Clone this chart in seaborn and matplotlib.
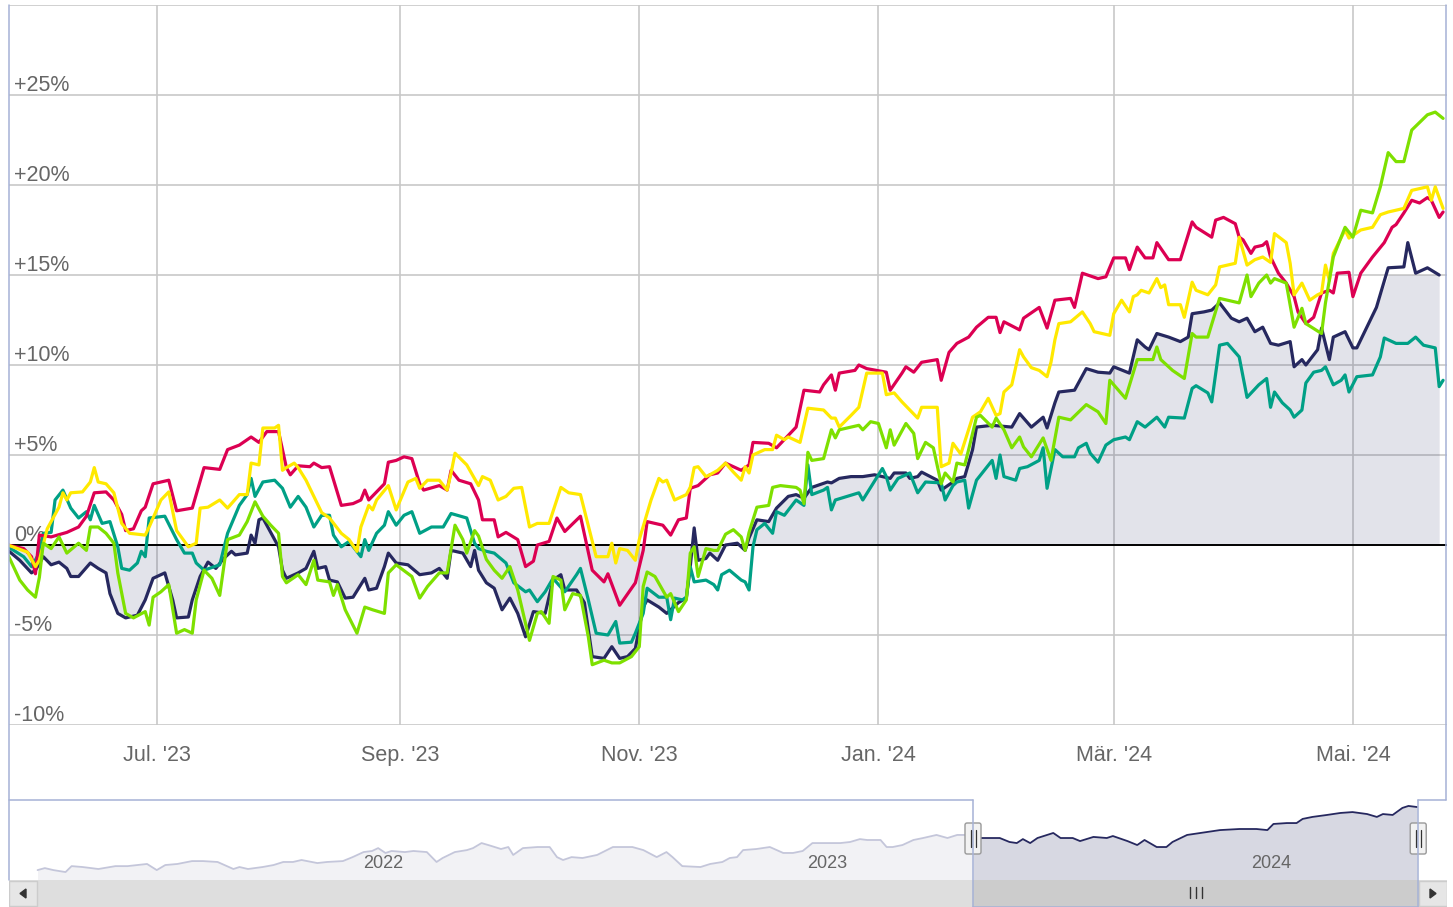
import numpy as np
import pandas as pd
import matplotlib
matplotlib.use("Agg")
import matplotlib.pyplot as plt
import matplotlib.dates as mdates
import matplotlib.transforms as mtransforms
from matplotlib.lines import Line2D
from matplotlib.patches import Rectangle, FancyBboxPatch, Polygon
import seaborn as sns

sns.set_style("white")
plt.rcParams["font.family"] = ["Liberation Sans", "DejaVu Sans"]

# ---------------- data (day offset from START, % change) ----------------
START = pd.Timestamp("2023-05-24")
SEL_END = pd.Timestamp("2024-05-24")

navy_pts = [(0,-0.3),(3,-0.85),(6,-1.55),(7,-1.4),(9,-0.65),(11,-1.1),(13,-0.95),(15,-1.3),(16,-1.75),(18,-1.75),
 (21,-1.0),(23,-1.3),(25,-1.55),(26,-2.7),(28,-3.8),(30,-4.05),(33,-3.9),(35,-3.05),(37,-1.85),(40,-1.55),
 (42,-3.05),(43,-4.05),(46,-4.0),(47,-3.05),(49,-1.75),(51,-0.95),(53,-1.3),(55,-0.75),(57,-0.35),(58,-0.55),
 (61,-0.45),(62,0.55),(63,0.1),(64,1.4),(65,1.5),(66,1.1),(69,-0.1),(70,-1.4),(71,-1.85),(74,-1.55),
 (76,-1.3),(78,-0.35),(79,-1.3),(81,-1.2),(82,-1.95),(84,-2.05),(86,-2.95),(88,-2.9),(91,-1.85),(92,-2.5),
 (94,-2.4),(96,-1.2),(97,-0.45),(99,-1.0),(102,-1.1),(105,-1.65),(108,-1.55),(110,-1.3),(112,-1.85),(113,-0.3),
 (116,-0.45),(118,-1.2),(119,-0.3),(120,-1.4),(122,-2.1),(124,-2.4),(126,-3.6),(128,-2.95),(130,-3.8),(132,-5.1),
 (134,-3.7),(137,-3.8),(139,-1.95),(141,-1.65),(142,-2.5),(145,-2.5),(147,-3.2),(149,-6.2),(152,-6.3),(154,-5.65),
 (156,-6.3),(158,-6.2),(160,-5.75),(162,-3.45),(163,-3.05),(166,-3.45),(168,-3.8),(171,-3.2),(173,-2.95),(174,-1.2),
 (175,0.95),(176,-0.85),(178,-0.75),(179,-0.45),(181,-0.85),(183,0.0),(186,0.1),(188,-0.3),(189,0.4),(191,1.4),
 (194,1.3),(196,2.05),(199,2.7),(201,2.8),(203,2.6),(205,3.2),(209,3.5),(210,3.45),(212,3.7),(215,3.8),
 (218,3.8),(221,3.9),(223,3.8),(225,3.7),(226,4.0),(229,4.0),(230,3.7),(232,3.8),(233,4.05),(237,3.6),
 (238,3.05),(241,3.5),(242,3.7),(244,3.8),(246,5.3),(247,6.55),(251,6.65),(256,6.55),(258,7.3),(261,6.55),
 (264,7.1),(265,6.5),(267,7.9),(268,8.5),(272,8.6),(275,9.8),(278,9.6),(281,9.55),(282,9.9),(286,9.55),
 (288,11.4),(290,11.0),(291,10.85),(293,11.75),(296,11.55),(299,11.3),(301,11.55),(302,12.85),(305,12.95),(307,13.05),
 (309,13.45),(312,12.6),(314,12.4),(316,12.6),(318,11.85),(320,12.1),(322,11.2),(324,11.1),(327,11.3),(328,9.9),
 (330,10.3),(331,10.0),(334,10.85),(335,12.05),(337,10.3),(338,11.55),(341,11.85),(343,10.95),(344,10.95),(349,13.2),
 (352,15.4),(356,15.45),(357,16.8),(359,15.1),(362,15.4),(365,15.0)]

red_pts = [(0,0.0),(4,-0.2),(6,-0.65),(7,-1.6),(8,0.55),(11,0.45),(15,0.7),(18,1.0),(20,1.6),(22,2.9),
 (25,2.95),(27,2.5),(29,1.7),(30,0.8),(32,0.9),(34,1.9),(35,2.1),(37,3.4),(41,3.6),(43,1.9),
 (47,2.05),(50,4.3),(54,4.2),(56,5.3),(59,5.55),(62,6.0),(64,5.7),(66,6.3),(69,6.3),(71,4.3),
 (72,3.9),(74,4.4),(77,4.35),(78,4.55),(80,4.3),(82,4.35),(85,2.2),(88,2.3),(90,2.5),(91,3.05),
 (92,2.5),(96,3.4),(97,4.6),(99,4.7),(101,4.9),(103,4.8),(105,3.4),(106,3.05),(110,3.3),(112,3.05),
 (113,4.15),(115,3.6),(118,3.4),(120,2.5),(121,1.4),(124,1.4),(125,0.45),(127,0.7),(130,0.3),(132,-1.2),
 (134,-0.9),(135,0.0),(138,0.2),(140,1.5),(142,0.75),(146,1.6),(149,-1.4),(152,-2.05),(153,-1.6),(156,-3.35),
 (160,-2.1),(162,-0.3),(163,1.3),(167,1.1),(169,0.55),(171,1.4),(173,1.5),(174,3.15),(176,3.3),(179,3.9),
 (181,4.0),(183,4.55),(187,4.15),(189,4.45),(190,5.7),(194,5.65),(196,5.4),(201,6.55),(203,8.6),(207,8.5),
 (208,8.9),(210,9.45),(211,8.6),(212,9.55),(216,9.7),(217,10.0),(219,9.8),(224,9.6),(225,8.6),(228,9.55),
 (229,9.9),(231,9.6),(233,10.15),(237,10.3),(238,9.15),(240,10.7),(242,11.2),(245,11.55),(247,12.1),(250,12.65),
 (252,12.65),(253,11.8),(254,12.4),(258,11.95),(259,12.6),(263,13.2),(265,12.05),(267,13.6),(271,13.7),(272,13.2),
 (274,15.1),(278,14.8),(280,14.9),(282,15.95),(285,15.95),(286,15.3),(288,16.55),(290,15.95),(292,15.95),(293,16.8),
 (296,15.85),(299,15.85),(302,17.95),(303,17.65),(307,17.1),(308,18.05),(310,18.2),(313,17.85),(314,17.1),(315,16.95),
 (317,16.2),(318,16.55),(320,16.65),(321,16.85),(322,16.0),(324,15.1),(326,14.55),(328,13.8),(329,12.95),(331,12.3),
 (333,12.65),(335,14.0),(337,14.15),(338,14.0),(339,15.1),(342,15.15),(343,13.8),(345,15.1),(348,16.0),(351,16.8),
 (353,17.65),(354,17.8),(356,18.45),(358,19.15),(360,19.0),(362,19.3),(363,19.15),(365,18.2),(366,18.5)]

yellow_pts = [(0,0.0),(5,-0.4),(7,-1.2),(8,-0.85),(10,0.9),(13,2.1),(14,2.9),(15,2.5),(16,2.9),(19,2.95),
 (21,3.5),(22,4.3),(23,3.5),(25,3.4),(27,2.9),(29,1.2),(31,0.65),(35,0.55),(36,1.0),(39,2.5),
 (41,2.95),(43,0.8),(46,-0.1),(48,0.1),(49,2.05),(51,2.1),(54,2.5),(56,2.05),(59,2.8),(61,2.8),
 (62,4.55),(64,4.45),(65,6.5),(68,6.5),(69,6.65),(70,4.15),(71,4.3),(73,4.55),(74,4.3),(76,3.6),
 (77,3.15),(78,2.7),(80,1.8),(82,1.5),(85,0.65),(87,0.3),(89,-0.35),(90,1.0),(92,2.2),(93,1.95),
 (94,2.5),(97,3.3),(99,1.95),(102,3.5),(104,3.7),(105,3.15),(107,3.6),(110,3.6),(112,3.05),(113,4.0),
 (114,5.1),(117,4.45),(120,3.3),(121,3.8),(123,3.6),(125,2.5),(127,2.7),(129,3.15),(131,3.2),(133,1.0),
 (135,1.2),(138,1.2),(141,3.2),(143,2.9),(146,2.8),(149,0.2),(150,-0.65),(153,-0.65),(154,0.1),(155,-1.0),
 (156,-0.2),(158,-0.3),(160,-0.85),(161,0.3),(164,2.5),(166,3.7),(167,3.5),(168,3.6),(170,2.5),(173,2.8),
 (174,3.2),(175,4.3),(176,4.35),(178,3.8),(179,3.9),(181,4.15),(183,4.55),(185,4.05),(187,3.6),(188,4.35),
 (189,4.0),(190,5.0),(193,5.3),(195,5.3),(196,6.1),(198,5.85),(199,6.0),(202,5.7),(204,7.6),(208,7.5),
 (210,7.05),(211,7.05),(212,6.55),(215,7.2),(217,7.65),(219,9.55),(223,9.55),(224,8.35),(226,8.45),(228,7.95),
 (232,7.05),(233,7.65),(237,7.65),(238,4.35),(240,4.55),(241,5.65),(243,5.05),(246,7.1),(248,7.4),(250,8.15),
 (252,7.2),(253,7.3),(254,8.5),(256,8.9),(258,10.85),(259,10.45),(261,9.85),(263,9.7),(265,9.35),(266,10.15),
 (267,11.4),(268,12.3),(271,12.4),(274,12.95),(276,12.3),(277,11.85),(281,11.65),(282,12.85),(284,13.6),(286,12.95),
 (287,13.8),(288,13.9),(289,14.15),(291,14.0),(293,14.8),(294,14.3),(295,14.45),(296,13.35),(299,13.35),(300,12.65),
 (302,14.6),(303,14.15),(306,13.9),(308,14.45),(309,15.45),(313,15.65),(314,17.1),(316,15.55),(318,15.85),(320,16.0),
 (322,15.7),(323,17.3),(326,16.8),(327,15.65),(328,13.9),(330,14.55),(332,13.6),(334,13.9),(335,14.0),(336,15.55),
 (337,14.7),(338,16.2),(341,17.5),(342,17.05),(345,17.5),(348,17.65),(350,18.35),(352,18.5),(356,18.7),(358,19.7),
 (362,19.9),(363,19.15),(364,19.9),(366,18.7)]

green_pts = [(0,-0.55),(3,-1.95),(5,-2.5),(7,-2.9),(8,-1.8),(9,0.1),(11,-0.2),(13,0.45),(15,-0.45),(18,0.1),
 (20,-0.3),(21,1.0),(23,1.0),(25,0.65),(27,0.1),(28,-1.55),(30,-3.8),(32,-4.05),(35,-3.7),(36,-4.45),
 (37,-2.9),(39,-2.6),(41,-2.2),(43,-4.9),(45,-4.7),(47,-4.9),(48,-3.05),(50,-1.4),(52,-1.85),(54,-2.8),
 (56,0.3),(59,0.55),(61,1.3),(63,2.4),(65,1.6),(67,1.1),(69,0.65),(70,-1.75),(71,-2.1),(74,-1.65),
 (76,-2.2),(78,-0.85),(79,-1.95),(82,-2.05),(83,-2.8),(84,-2.2),(86,-3.6),(89,-4.9),(91,-3.45),(93,-3.6),
 (96,-3.8),(97,-1.55),(99,-1.1),(103,-1.75),(105,-2.95),(107,-2.3),(110,-1.55),(112,-1.55),(114,1.1),(116,0.3),
 (117,-0.45),(119,0.8),(120,0.5),(122,-0.8),(124,-1.4),(126,-1.85),(128,-1.2),(130,-2.5),(133,-5.3),(135,-3.8),
 (136,-3.7),(138,-4.35),(139,-1.75),(141,-1.95),(142,-3.6),(144,-2.7),(146,-2.8),(148,-5.1),(149,-6.65),(152,-6.4),
 (154,-6.55),(156,-6.55),(159,-6.2),(161,-5.65),(162,-2.3),(163,-1.5),(165,-1.75),(168,-2.9),(169,-2.7),(171,-3.7),
 (173,-3.05),(174,-0.45),(175,-0.1),(176,-1.75),(178,-0.2),(180,-0.3),(181,-0.3),(183,0.6),(185,0.85),(187,0.45),
 (188,-0.3),(189,0.7),(191,2.1),(194,2.2),(195,3.2),(197,3.3),(201,3.2),(202,3.05),(203,2.3),(204,5.15),
 (205,4.7),(208,4.8),(210,6.4),(211,5.95),(212,6.4),(215,6.55),(217,6.65),(218,6.4),(220,6.85),(222,6.75),
 (224,5.4),(225,6.4),(226,5.55),(229,6.75),(231,6.2),(232,4.8),(234,5.7),(236,5.4),(238,3.4),(239,4.0),
 (241,3.5),(242,4.55),(244,4.45),(245,5.3),(247,7.1),(248,7.2),(251,6.55),(252,7.05),(254,6.4),(256,5.4),
 (258,6.0),(259,5.45),(261,4.9),(264,5.95),(266,4.7),(268,7.1),(271,6.95),(275,7.8),(278,7.4),(280,6.75),
 (281,9.15),(285,8.15),(288,10.3),(292,10.3),(293,11.0),(294,10.3),(297,9.7),(300,9.25),(302,11.75),(303,11.55),
 (306,11.55),(309,13.7),(314,13.45),(316,15.0),(317,13.8),(319,14.55),(321,15.0),(322,14.55),(323,14.8),(326,14.55),
 (328,12.1),(330,13.15),(331,12.3),(335,11.75),(336,13.45),(338,16.0),(341,17.65),(343,17.1),(345,18.6),(348,18.45),
 (350,19.9),(352,21.8),(354,21.3),(356,21.3),(358,23.05),(362,23.9),(364,24.05),(366,23.7)]

teal_pts = [(0,-0.1),(4,-0.65),(6,-1.2),(8,-0.45),(9,0.65),(11,0.7),(12,2.5),(14,3.05),(16,2.05),(18,1.5),
 (20,1.85),(21,1.4),(22,2.2),(24,1.2),(26,1.3),(28,-0.1),(29,-1.3),(31,-1.4),(33,-1.0),(34,-0.35),
 (35,-0.65),(36,1.5),(40,1.6),(43,0.3),(45,-0.45),(47,-0.45),(48,-1.0),(50,-1.4),(54,-1.1),(56,0.65),
 (59,2.2),(61,2.8),(62,3.7),(63,2.7),(65,3.5),(68,3.6),(70,3.15),(72,2.1),(74,2.7),(76,2.1),
 (78,1.0),(80,1.65),(82,1.65),(83,0.55),(85,-0.1),(87,0.2),(90,-0.65),(91,0.3),(92,-0.3),(94,0.65),
 (96,1.1),(97,1.85),(99,1.1),(101,1.65),(103,1.85),(105,0.65),(108,1.0),(111,1.0),(113,1.75),(117,1.5),
 (119,0.1),(120,-0.2),(122,-0.35),(124,-0.45),(127,-1.0),(129,-2.1),(132,-2.6),(133,-2.5),(135,-3.15),(137,-2.6),
 (139,-1.85),(142,-2.6),(145,-1.65),(146,-1.3),(148,-3.05),(150,-4.9),(153,-5.0),(155,-4.25),(156,-5.45),(159,-5.4),
 (160,-4.9),(162,-3.8),(163,-2.4),(166,-2.9),(168,-2.9),(169,-4.15),(170,-2.95),(172,-3.05),(173,-2.9),(174,-1.2),
 (175,-2.05),(178,-1.95),(180,-2.2),(181,-2.5),(182,-1.65),(184,-1.4),(187,-1.95),(188,-2.05),(189,-2.5),(190,-0.1),
 (191,0.85),(193,1.2),(195,0.65),(196,1.85),(198,1.65),(201,2.5),(203,2.2),(204,4.45),(205,2.8),(208,3.05),
 (209,3.2),(210,1.95),(211,2.5),(217,2.9),(218,2.5),(220,3.2),(223,4.25),(224,3.8),(225,3.05),(227,3.7),
 (230,4.0),(231,3.45),(232,2.9),(234,3.5),(238,3.45),(239,2.5),(241,3.3),(242,3.5),(244,3.6),(245,2.05),
 (247,3.6),(249,4.15),(251,4.7),(252,3.7),(253,5.0),(254,3.8),(257,3.6),(258,4.25),(260,4.35),(263,4.7),
 (264,5.4),(265,3.15),(267,5.3),(269,4.9),(272,4.9),(273,5.4),(275,5.65),(276,5.1),(278,4.6),(280,5.55),
 (282,5.85),(285,6.0),(286,5.85),(288,6.85),(290,6.55),(293,7.1),(295,6.55),(296,7.1),(300,7.05),(302,8.7),
 (303,8.85),(306,8.45),(307,7.95),(309,11.1),(311,11.2),(314,10.45),(316,8.2),(319,8.9),(321,9.25),(322,7.65),
 (323,8.5),(325,7.9),(327,7.5),(328,7.1),(330,7.5),(331,9.0),(333,9.6),(335,9.7),(336,9.9),(338,8.9),
 (340,9.15),(341,9.45),(342,8.5),(344,9.35),(348,9.45),(350,10.45),(351,11.5),(354,11.2),(357,11.2),(359,11.55),
 (361,11.1),(364,10.95),(365,8.8),(366,9.15)]

# navigator (long history of the main series, % vs. selection start)
nav_pts = [(-769,-17.8),(-763,-16.7),(-756,-17.8),(-746,-18.9),(-741,-15.6),(-732,-16.1),(-719,-17.2),(-705,-15.6),
 (-695,-15.6),(-679,-14.4),(-671,-17.8),(-664,-15.0),(-654,-14.4),(-642,-12.8),(-633,-12.8),(-621,-13.3),(-608,-17.2),
 (-603,-16.1),(-596,-17.2),(-584,-16.1),(-575,-15.0),(-567,-13.3),(-559,-13.3),(-552,-12.2),(-539,-13.9),(-531,-13.3),
 (-518,-12.8),(-510,-10.6),(-501,-7.8),(-494,-7.2),(-489,-5.6),(-483,-8.3),(-478,-7.2),(-467,-7.8),(-460,-7.2),
 (-449,-7.8),(-441,-13.3),(-436,-11.1),(-426,-7.8),(-416,-6.7),(-411,-5.6),(-404,-2.8),(-397,-4.2),(-388,-6.1),
 (-382,-5.0),(-378,-9.4),(-370,-5.6),(-358,-5.0),(-348,-5.0),(-342,-10.6),(-337,-12.2),(-330,-10.6),(-321,-11.1),
 (-309,-9.4),(-296,-5.0),(-280,-5.0),(-271,-6.7),(-260,-10.6),(-252,-7.8),(-247,-10.6),(-239,-15.6),(-224,-16.1),
 (-216,-14.4),(-206,-13.3),(-200,-11.1),(-194,-10.6),(-189,-6.7),(-178,-6.1),(-167,-5.0),(-156,-8.3),(-148,-8.3),
 (-140,-7.2),(-132,-2.8),(-123,-2.8),(-109,-2.8),(-101,-2.2),(-93,-0.6),(-87,-1.1),(-76,-1.1),(-71,-5.0),(-66,-5.0),
 (-58,-3.9),(-49,-1.1),(-41,0.0),(-30,1.7),(-21,0.0),(-13,1.7),(-7,1.7),(0,0.0),
 (6,0.0),(14,0.0),(22,0.0),(30,-2.2),(36,-2.8),(41,-0.6),(47,-2.8),(53,0.0),(66,2.8),(72,0.0),(82,0.0),(88,-1.7),
 (99,0.6),(110,0.0),(115,1.1),(127,-1.7),(135,-3.9),(141,-1.1),(151,-5.0),(159,-5.0),(164,-2.2),(176,1.7),(192,3.3),
 (203,4.4),(219,5.0),(233,5.0),(242,4.4),(247,7.8),(258,8.3),(266,8.3),(271,10.6),(279,11.7),(291,12.8),(302,13.9),
 (312,14.4),(324,13.3),(332,11.7),(337,13.3),(345,12.8),(353,16.7),(358,17.8),(365,17.2)]

y_ticks = [-10, -5, 0, 5, 10, 15, 20, 25, 30]
y_labels = {-10: "-10%", -5: "-5%", 0: "0%", 5: "+5%", 10: "+10%", 15: "+15%", 20: "+20%", 25: "+25%"}
x_tick_dates = ["2023-07-01", "2023-09-01", "2023-11-01", "2024-01-01", "2024-03-01", "2024-05-01"]
x_tick_labels = ["Jul. '23", "Sep. '23", "Nov. '23", "Jan. '24", "Mär. '24", "Mai. '24"]
nav_years = ["2022", "2023", "2024"]
FILL_ZONE_TOP = 15.0   # area shading of the main series only drawn up to this level

NAVY, RED, YELLOW, GREEN, TEAL = "#26285f", "#dc0052", "#ffe900", "#7ee000", "#00a086"
GRID = "#c8c8c8"
OUTLINE = "#a6b2d6"
TXT = "#666666"


def frame(points):
    d = np.array([p[0] for p in points], dtype=float)
    v = np.array([p[1] for p in points], dtype=float)
    return pd.DataFrame({"date": START + pd.to_timedelta(d, unit="D"), "value": v})


W, H = 1453, 907
fig = plt.figure(figsize=(W / 100, H / 100), dpi=100)
fig.patch.set_facecolor("white")


def rect(x0, y0, x1, y1):
    return [x0 / W, 1 - y1 / H, (x1 - x0) / W, (y1 - y0) / H]


ID = mtransforms.IdentityTransform()


def pline(xs, ys, **kw):
    fig.add_artist(Line2D(xs, [H - y for y in ys], transform=ID, **kw))


# ---------------- main chart ----------------
ax = fig.add_axes(rect(9, 5, 1447, 725))
PXD = 3.921
main_left = pd.Timestamp("2023-07-01") - pd.Timedelta(days=(157 - 9) / PXD)
main_right = main_left + pd.Timedelta(days=1438 / PXD)
ax.set_xlim(main_left, main_right)
ax.set_ylim(-10, 30)
for s in ax.spines.values():
    s.set_visible(False)
ax.set_axisbelow(True)
ax.set_yticks(y_ticks)
ax.grid(True, color=GRID, lw=1.2)
ax.tick_params(axis="y", length=0, labelleft=False)
ax.set_xticks(pd.to_datetime(x_tick_dates))
ax.set_xticklabels(x_tick_labels)
ax.tick_params(axis="x", direction="out", length=9.4, width=0.8, color="#ccd6eb",
               pad=5, labelsize=15.5, labelcolor=TXT)

df_navy = frame(navy_pts)
fill_top = np.minimum(df_navy["value"].to_numpy(), FILL_ZONE_TOP)
ax.fill_between(df_navy["date"], fill_top, 0, color=NAVY, alpha=0.13,
                linewidth=0, zorder=1.6, interpolate=True)
ax.axhline(0, color="black", lw=1.4, zorder=2.0)

for v, lab in y_labels.items():
    ax.annotate(lab, xy=(0, v), xycoords=ax.get_yaxis_transform(), xytext=(5, 4),
                textcoords="offset pixels", ha="left", va="baseline",
                fontsize=15.5, color=TXT, zorder=1.8)

series = [(navy_pts, NAVY, 3.0), (teal_pts, TEAL, 3.1), (red_pts, RED, 3.2),
          (yellow_pts, YELLOW, 3.3), (green_pts, GREEN, 3.4)]
for pts, col, z in series:
    sns.lineplot(data=frame(pts), x="date", y="value", ax=ax, color=col, linewidth=2.3,
                 estimator=None, sort=False, legend=False, zorder=z,
                 solid_joinstyle="round", solid_capstyle="round")
ax.set_xlabel("")
ax.set_ylabel("")

# ---------------- navigator ----------------
axn = fig.add_axes(rect(9, 800, 1447, 880))
NPXD = 444 / 365.0
nav_left = START - pd.Timedelta(days=(973 - 9) / NPXD)
nav_right = nav_left + pd.Timedelta(days=1438 / NPXD)
axn.set_xlim(nav_left, nav_right)
NAV_LO, NAV_HI = -23.3, 21.1
axn.set_ylim(NAV_LO, NAV_HI)
axn.axis("off")

df_nav = frame(nav_pts)
unsel = df_nav[df_nav["date"] <= START]
sel = df_nav[df_nav["date"] >= START]
axn.fill_between(unsel["date"], unsel["value"], NAV_LO, color="#f2f2f5", lw=0, zorder=1)
axn.fill_between(sel["date"], sel["value"], NAV_LO, color="#d7d8e2", lw=0, zorder=1)
sns.lineplot(data=unsel, x="date", y="value", ax=axn, color="#c4c6da", linewidth=1.3,
             estimator=None, sort=False, legend=False, zorder=2, solid_joinstyle="round")
sns.lineplot(data=sel, x="date", y="value", ax=axn, color=NAVY, linewidth=1.3,
             estimator=None, sort=False, legend=False, zorder=2, solid_joinstyle="round")
axn.set_xlabel("")
axn.set_ylabel("")
for yr in nav_years:
    axn.annotate(yr, xy=(mdates.date2num(pd.Timestamp(f"{yr}-01-01")), 0.2125),
                 xycoords=axn.get_xaxis_transform(), xytext=(8, 0),
                 textcoords="offset pixels", ha="left", va="center",
                 fontsize=13, color=TXT, zorder=3)

# ---------------- scrollbar ----------------
axs = fig.add_axes(rect(9, 880, 1447, 907))
axs.set_xlim(nav_left, nav_right)
axs.set_ylim(0, 1)
axs.axis("off")
axs.add_patch(Rectangle((0, 0), 1, 1, transform=axs.transAxes, color="#dedede", zorder=0))
axs.axvspan(START, SEL_END, color="#cccccc", zorder=1)
bw = 28 / 1438
for x0 in (0, 1 - bw):
    axs.add_patch(Rectangle((x0, 0.02), bw, 0.96, transform=axs.transAxes,
                            facecolor="#e6e6e6", edgecolor="#cccccc", lw=1, zorder=2))


def xpx(axis, date):
    return axis.transData.transform((mdates.date2num(date), 0))[0]


sx0 = xpx(axn, START)
sx1 = xpx(axn, SEL_END)

# arrows
fig.add_artist(Polygon([[26, H - 889], [26, H - 898], [20, H - 893.5]], closed=True,
                       transform=ID, color="#333333"))
fig.add_artist(Polygon([[1430, H - 889], [1430, H - 898], [1436, H - 893.5]], closed=True,
                       transform=ID, color="#333333"))
# grip
gc = (sx0 + sx1) / 2
for dx in (-6, 0, 6):
    pline([gc + dx, gc + dx], [887, 898], color="#333333", lw=1.0)

# outline lines
pline([9, 9], [5, 880], color=OUTLINE, lw=1.1)
pline([1446, 1446], [5, 800], color=OUTLINE, lw=1.1)
pline([9, sx0], [800, 800], color=OUTLINE, lw=1.1)
pline([sx1, 1446], [800, 800], color=OUTLINE, lw=1.1)
pline([sx0, sx0], [800, 907], color=OUTLINE, lw=1.1)
pline([sx1, sx1], [800, 907], color=OUTLINE, lw=1.1)
pline([sx0, sx1], [906.5, 906.5], color=OUTLINE, lw=1.1)

# handles
for hx in (sx0, sx1):
    fig.add_artist(FancyBboxPatch((hx - 8, H - 854), 16, 31, boxstyle="round,pad=0,rounding_size=2",
                                  transform=ID, facecolor="#f2f2f2", edgecolor="#999999", lw=1.0))
    pline([hx - 2.5, hx - 2.5], [830, 847], color="#333333", lw=0.9)
    pline([hx + 2.5, hx + 2.5], [830, 847], color="#333333", lw=0.9)

fig.savefig("out.png", dpi=100)
